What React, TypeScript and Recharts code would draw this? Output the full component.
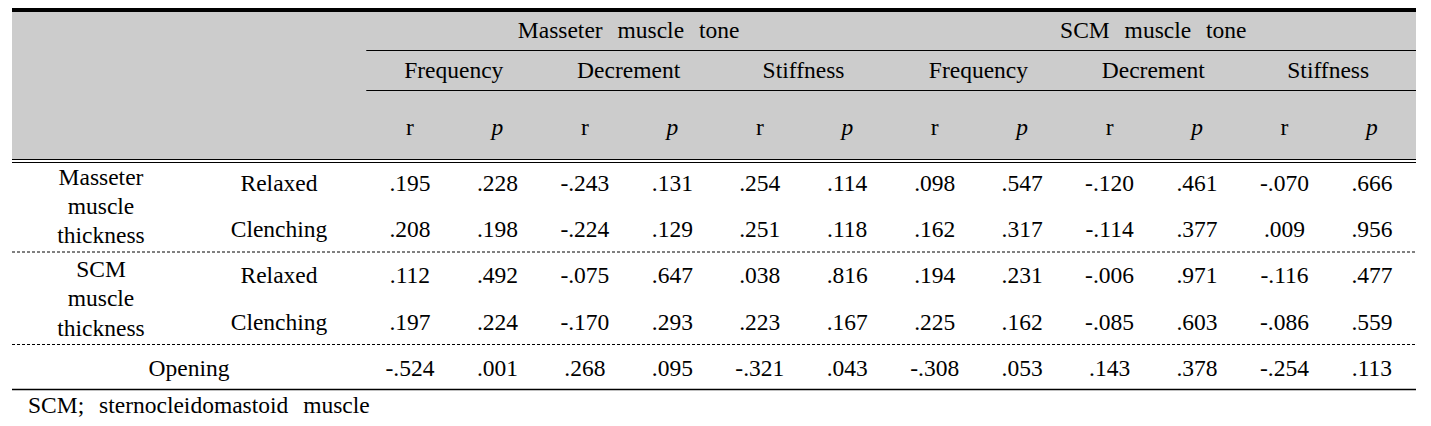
import React from 'react';
import { ComposedChart, Scatter, XAxis, YAxis, ReferenceLine, ReferenceArea } from 'recharts';

// table content
const GROUPS = ['Masseter muscle tone', 'SCM muscle tone'];
const MEASURES = ['Frequency', 'Decrement', 'Stiffness'];
const STATS = ['r', 'p'];
const THICKNESS_GROUPS = [
  ['Masseter', 'muscle', 'thickness'],
  ['SCM', 'muscle', 'thickness'],
];
const STATES = ['Relaxed', 'Clenching'];
const OPENING = 'Opening';
const FOOTNOTE = 'SCM; sternocleidomastoid muscle';

const MASSETER_RELAXED = [0.195, 0.228, -0.243, 0.131, 0.254, 0.114, 0.098, 0.547, -0.12, 0.461, -0.07, 0.666];
const MASSETER_CLENCHING = [0.208, 0.198, -0.224, 0.129, 0.251, 0.118, 0.162, 0.317, -0.114, 0.377, 0.009, 0.956];
const SCM_RELAXED = [0.112, 0.492, -0.075, 0.647, 0.038, 0.816, 0.194, 0.231, -0.006, 0.971, -0.116, 0.477];
const SCM_CLENCHING = [0.197, 0.224, -0.17, 0.293, 0.223, 0.167, 0.225, 0.162, -0.085, 0.603, -0.086, 0.559];
const OPENING_VALUES = [-0.524, 0.001, 0.268, 0.095, -0.321, 0.043, -0.308, 0.053, 0.143, 0.378, -0.254, 0.113];

const BODY_ROWS = [MASSETER_RELAXED, MASSETER_CLENCHING, SCM_RELAXED, SCM_CLENCHING, OPENING_VALUES];

// layout (pixels)
const W = 1431;
const H = 426;
const COL_W = 87.45;
const COL0_X = 410;
const ROW_H = 46.3;
const ROW0_BASE = 190.7;
const LINE_GAP = 29.3;
const FONT = '"Liberation Serif", "Times New Roman", serif';

const ux = (px: number) => (px - COL0_X) / COL_W;
const uy = (py: number) => (py - ROW0_BASE) / ROW_H;

const LEFT = ux(12);
const RIGHT = ux(1416);
const DATA_LEFT = -0.5;

const fmt = (v: number) => v.toFixed(3).replace('0.', '.');

type Cell = { x: number; y: number; label: string; italic?: boolean; anchor?: string; spaced?: boolean };

const cells: Cell[] = [];

GROUPS.forEach((g, gi) => {
  cells.push({ x: gi * 6 + 2.5, y: uy(38), label: g, spaced: true });
  MEASURES.forEach((m, mi) => {
    cells.push({ x: gi * 6 + mi * 2 + 0.5, y: uy(78), label: m });
    STATS.forEach((s, si) => {
      cells.push({ x: gi * 6 + mi * 2 + si, y: uy(135), label: s, italic: s === 'p' });
    });
  });
});

THICKNESS_GROUPS.forEach((lines, gi) => {
  lines.forEach((line, li) => {
    cells.push({ x: ux(101), y: gi * 2 + 0.5 + ((li - 1) * LINE_GAP) / ROW_H, label: line });
  });
  STATES.forEach((s, si) => {
    cells.push({ x: ux(279), y: gi * 2 + si, label: s });
  });
});
cells.push({ x: ux(189), y: 4, label: OPENING });

BODY_ROWS.forEach((row, ri) => {
  row.forEach((v, ci) => {
    cells.push({ x: ci, y: ri, label: fmt(v) });
  });
});

cells.push({ x: ux(28), y: uy(413), label: FOOTNOTE, anchor: 'start', spaced: true });

const CellText = (props: any) => {
  const { cx, cy, payload } = props;
  if (cx == null || cy == null) return null;
  return (
    <text
      x={cx}
      y={cy}
      textAnchor={payload.anchor ?? 'middle'}
      fill="#000"
      style={{
        fontFamily: FONT,
        fontSize: 23.5,
        fontStyle: payload.italic ? 'italic' : 'normal',
        wordSpacing: payload.spaced ? '9px' : undefined,
      }}
    >
      {payload.label}
    </text>
  );
};

const hline = (y: number, x1: number, x2: number) => [
  { x: x1, y },
  { x: x2, y },
];

export default function App() {
  return (
    <div style={{ position: 'absolute', left: 0, top: 0, width: W, height: H, background: '#fff' }}>
      <ComposedChart width={W} height={H} margin={{ top: 0, right: 0, bottom: 0, left: 0 }}>
        <XAxis type="number" dataKey="x" domain={[ux(0), ux(W)]} hide allowDataOverflow />
        <YAxis type="number" dataKey="y" domain={[uy(0), uy(H)]} reversed hide allowDataOverflow />
        <ReferenceArea x1={LEFT} x2={RIGHT} y1={uy(12)} y2={uy(159)} fill="#cccccc" fillOpacity={1} stroke="none" />
        <ReferenceLine segment={hline(uy(10), LEFT, RIGHT)} stroke="#000" strokeWidth={4} />
        <ReferenceLine segment={hline(uy(50.5), DATA_LEFT, RIGHT)} stroke="#000" strokeWidth={1} />
        <ReferenceLine segment={hline(uy(90.5), DATA_LEFT, RIGHT)} stroke="#000" strokeWidth={1} />
        <ReferenceLine segment={hline(uy(159.5), LEFT, RIGHT)} stroke="#000" strokeWidth={1} />
        <ReferenceLine segment={hline(uy(162.5), LEFT, RIGHT)} stroke="#000" strokeWidth={1} />
        <ReferenceLine segment={hline(uy(252), LEFT, RIGHT)} stroke="#000" strokeWidth={1} strokeDasharray="3 2" />
        <ReferenceLine segment={hline(uy(344.5), LEFT, RIGHT)} stroke="#000" strokeWidth={1} strokeDasharray="3 2" />
        <ReferenceLine segment={hline(uy(389.5), LEFT, RIGHT)} stroke="#000" strokeWidth={1.3} />
        <Scatter data={cells} shape={<CellText />} isAnimationActive={false} />
      </ComposedChart>
    </div>
  );
}
